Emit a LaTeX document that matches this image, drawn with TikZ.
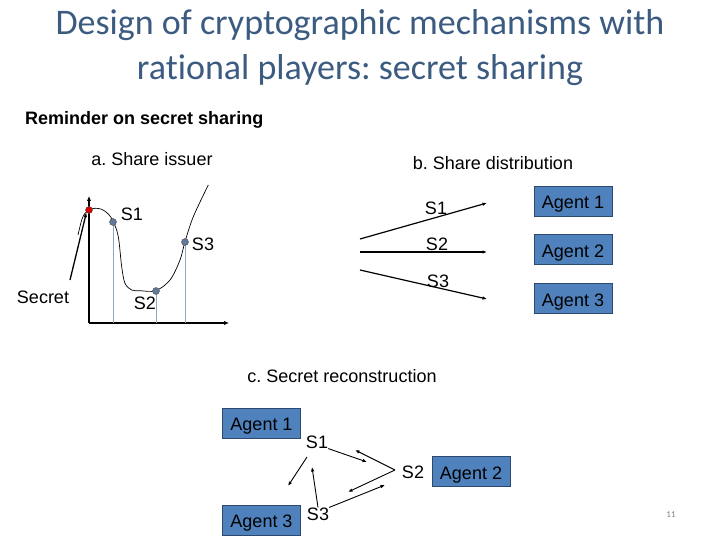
\documentclass[tikz,border=0pt]{standalone}
\usepackage{fontspec}
\setmainfont{Liberation Sans}
\newfontfamily\titlefont[Ligatures=NoCommon]{Carlito}
\usepackage{xcolor}
\usetikzlibrary{arrows.meta,positioning,calc}
\frenchspacing
\definecolor{TitleBlue}{HTML}{3B5B80}
\definecolor{AgentFill}{HTML}{4F81BD}
\definecolor{AgentLine}{HTML}{2C4A70}
\definecolor{DotFill}{HTML}{61799A}
\definecolor{DropLine}{HTML}{8FA6BF}
\tikzset{
  title/.style={font=\titlefont\fontsize{36}{43}\selectfont, text=TitleBlue, inner sep=0pt},
  txt/.style={font=\fontsize{18}{21}\selectfont, inner sep=0pt},
  bold/.style={font=\bfseries\fontsize{18}{21}\selectfont, inner sep=0pt},
  agent/.style={draw=AgentLine, fill=AgentFill, line width=0.8pt, minimum width=78pt, minimum height=30pt, inner sep=0pt, text height=15.5pt, text depth=0.5pt, font=\fontsize{18}{21}\selectfont},
  dot/.style={circle, draw=black!70, fill=DotFill, line width=0.4pt, inner sep=0pt, minimum size=7pt},
  secretdot/.style={dot, fill=red!85!black},
  axis/.style={line width=2pt, -{Latex[length=5pt,width=4.5pt]}},
  drop/.style={DropLine, line width=0.8pt},
  curve/.style={line width=0.7pt},
  arr/.style={-{Latex[length=4.5pt,width=3.5pt]}, line width=1.2pt},
  thinarr/.style={-{Latex[length=4.5pt,width=3.5pt]}, line width=0.9pt},
  pagenum/.style={font=\titlefont\fontsize{9}{10}\selectfont, text=gray, inner sep=0pt}
}
\begin{document}
\begin{tikzpicture}[x=1pt,y=-1pt]
\useasboundingbox (0,0) rectangle (720,540);
\node[title, anchor=base] (t1) at (360,35) {Design of cryptographic mechanisms with};
\node[title, anchor=base] (t2) at (360,80) {rational players: secret sharing};
\node[bold, anchor=base west] (rem) at (25,125) {Reminder on secret sharing};

% a. share issuer
\node[txt, anchor=base] (ha) at (152,166) {a. Share issuer};
\coordinate (orig) at (89,323);
\coordinate (ytop) at (89,196);
\coordinate (xend) at (229,323);
\draw[axis] (orig) -- (ytop);
\draw[axis] (orig) -- (xend);
\draw[curve] plot[smooth, tension=0.55] coordinates {(78,235) (81.7,220) (85,213.3) (89.3,210) (95,208.3) (101.7,209.3) (108.3,214) (113.3,221.7) (118.3,236.7) (121.7,266.7) (125,283.3) (131.7,290) (140,290.7) (155.7,290.7) (170,280) (180,260) (185,241.7) (193.3,216.7) (208.3,185)};
\foreach \x/\y in {113/222, 156/291, 185/242}
  \draw[drop] (\x,\y) -- (\x,323);
\node[secretdot] (p0) at (89,210) {};
\node[dot] (p1) at (113,222) {};
\node[dot] (p2) at (156,291) {};
\node[dot] (p3) at (185,242) {};
\node[txt] (a1) at (132,214) {S1};
\node[txt] (a2) at (145,303) {S2};
\node[txt] (a3) at (203,244) {S3};
\node[txt, anchor=base] (sec) at (43,303) {Secret};
\coordinate (secfrom) at (70,280);
\draw[arr, line width=1.3pt] (secfrom) -- (p0.south west);

% b. share distribution
\node[txt, anchor=base] (hb) at (493,170) {b. Share distribution};
\node[agent] (g1) at (573,201) {Agent 1};
\node[agent, below=18pt of g1] (g2) {Agent 2};
\node[agent, below=18pt of g2] (g3) {Agent 3};
\coordinate (o1) at (360,239);
\coordinate (o2) at (360,252);
\coordinate (o3) at (360,270);
\coordinate (e1) at (487,203);
\coordinate (e2) at (487,252);
\coordinate (e3) at (487,299);
\draw[arr] (o1) -- (e1);
\draw[arr] (o2) -- (e2);
\draw[arr] (o3) -- (e3);
\node[txt] (b1) at (436,208) {S1};
\node[txt] (b2) at (437,244) {S2};
\node[txt] (b3) at (438,281) {S3};

% c. secret reconstruction
\node[txt, anchor=base] (hc) at (342,382) {c. Secret reconstruction};
\node[agent] (r1) at (261.5,423) {Agent 1};
\node[agent] (r2) at (471,471.5) {Agent 2};
\node[agent] (r3) at (261.5,520) {Agent 3};
\node[txt] (q1) at (317,442) {S1};
\node[txt] (q2) at (413,472) {S2};
\node[txt] (q3) at (318,514) {S3};
\coordinate (m2) at (395,470);
\coordinate (s13) at (307,457);
\coordinate (c12) at (367,462);
\coordinate (c21) at (355,450);
\coordinate (c23) at (348,492);
\coordinate (c32) at (385,485);
\coordinate (c13) at (288,486);
\coordinate (c31) at (312,467);
\draw[thinarr] (q1.south east) -- (c12);
\draw[thinarr] (m2) -- (c21);
\draw[thinarr] (m2) -- (c23);
\draw[thinarr] (q3.north east) -- (c32);
\draw[thinarr] (s13) -- (c13);
\draw[thinarr] (q3.north) -- (c31);

\node[pagenum] (pg) at (671,515) {11};
\end{tikzpicture}
\end{document}
